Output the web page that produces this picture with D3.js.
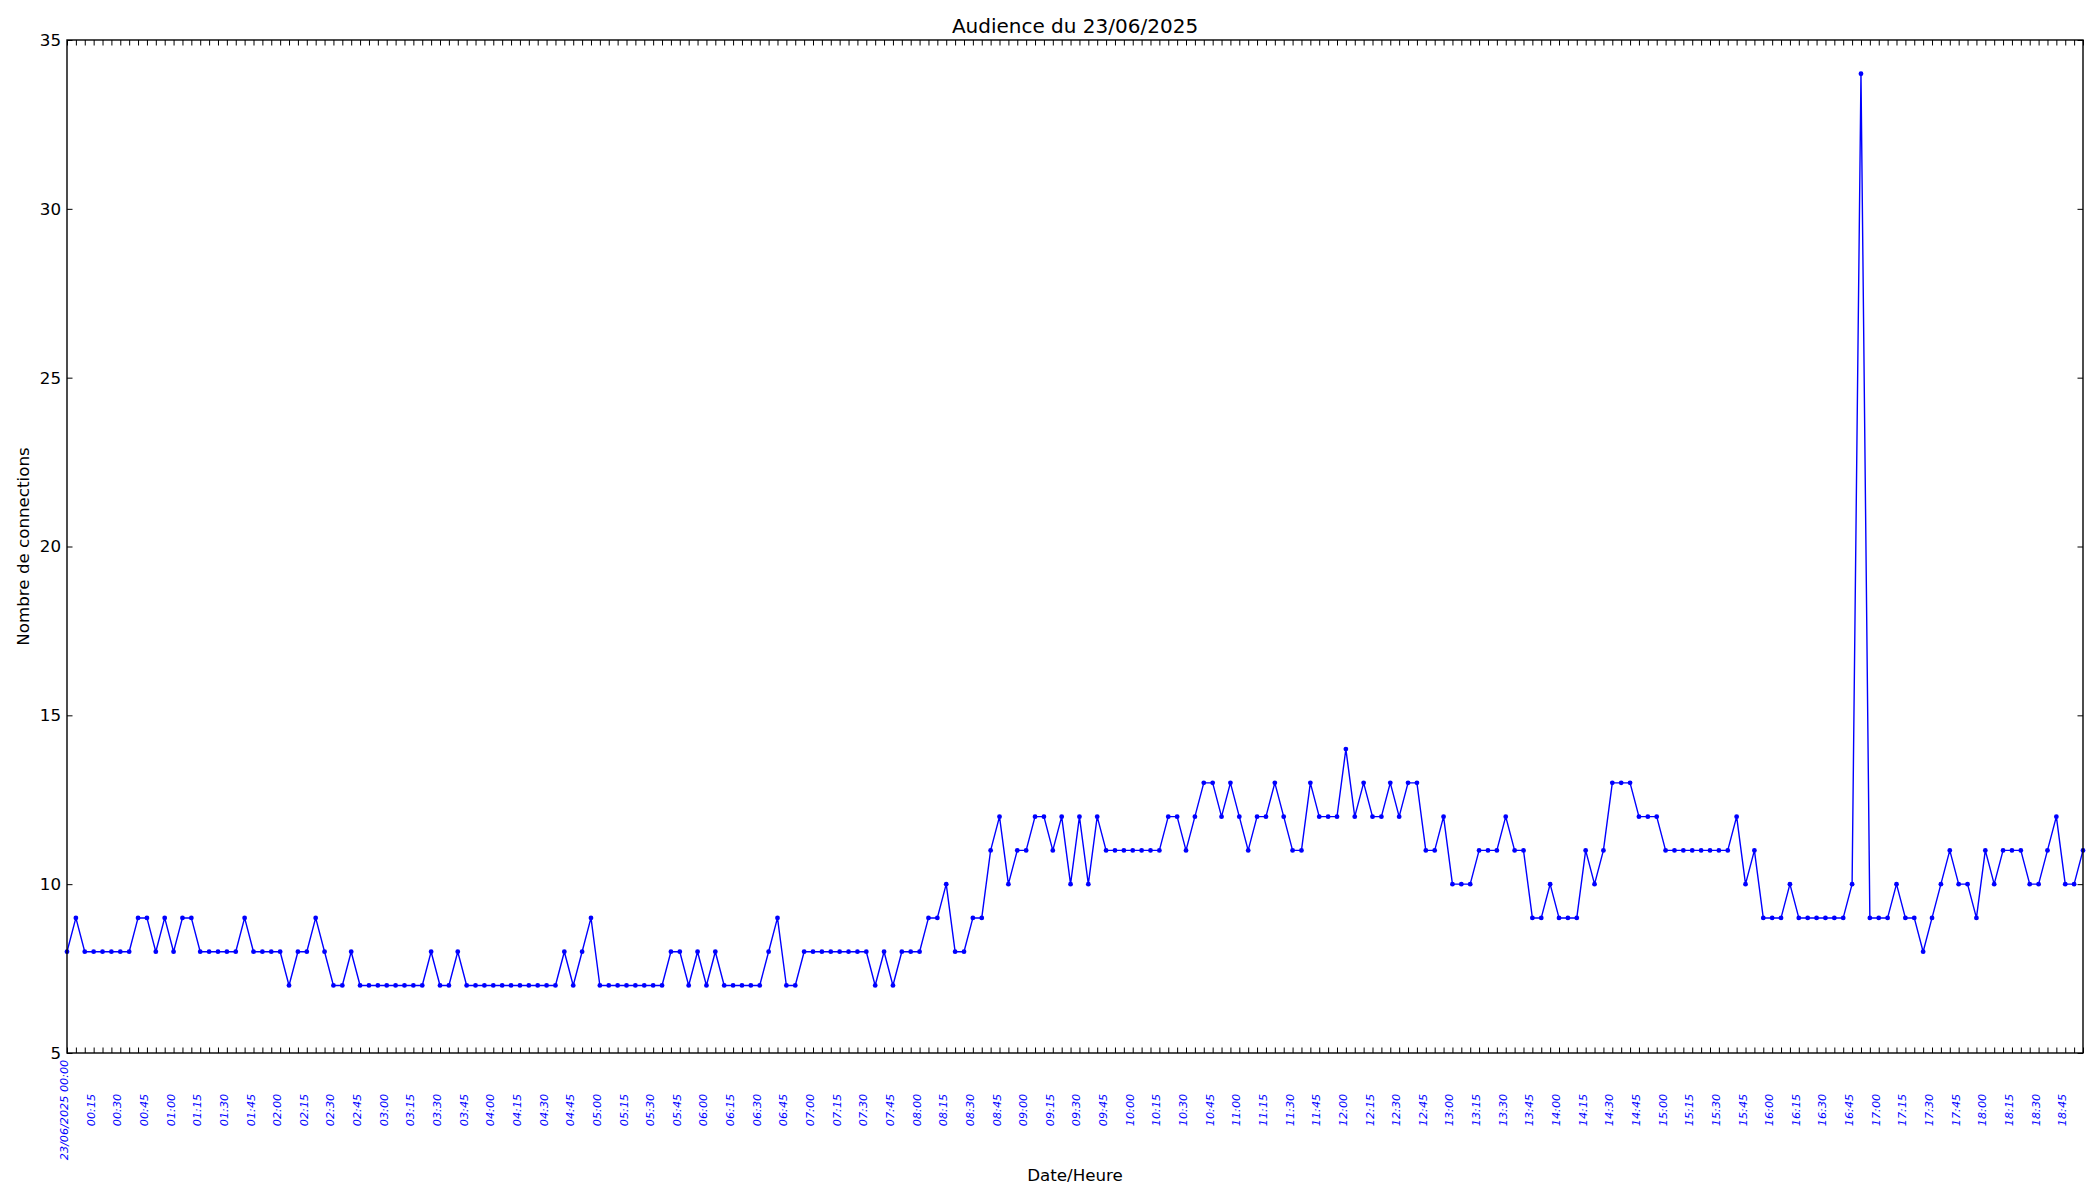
<!DOCTYPE html>
<html>
<head>
<meta charset="utf-8">
<script src="https://cdn.jsdelivr.net/npm/d3@7"></script>
<style>
  body { margin: 0; background: #fff; }
  svg { display: block; font-family: "DejaVu Sans", sans-serif; }
</style>
</head>
<body>
<svg id="chart" width="2100" height="1200"></svg>
<script>
// Connections every 5 minutes, 23/06/2025 00:00 -> 18:55
const connections = [
  8,9,8,8,8,8,8,8,9,9,
  8,9,8,9,9,8,8,8,8,8,
  9,8,8,8,8,7,8,8,9,8,
  7,7,8,7,7,7,7,7,7,7,
  7,8,7,7,8,7,7,7,7,7,
  7,7,7,7,7,7,8,7,8,9,
  7,7,7,7,7,7,7,7,8,8,
  7,8,7,8,7,7,7,7,7,8,
  9,7,7,8,8,8,8,8,8,8,
  8,7,8,7,8,8,8,9,9,10,
  8,8,9,9,11,12,10,11,11,12,
  12,11,12,10,12,10,12,11,11,11,
  11,11,11,11,12,12,11,12,13,13,
  12,13,12,11,12,12,13,12,11,11,
  13,12,12,12,14,12,13,12,12,13,
  12,13,13,11,11,12,10,10,10,11,
  11,11,12,11,11,9,9,10,9,9,
  9,11,10,11,13,13,13,12,12,12,
  11,11,11,11,11,11,11,11,12,10,
  11,9,9,9,10,9,9,9,9,9,
  9,10,34,9,9,9,10,9,9,8,
  9,10,11,10,10,9,11,10,11,11,
  11,10,10,11,12,10,10,11
];

// One label every 3 points (15 min)
const timeLabels = [
  "23/06/2025 00:00","00:15","00:30","00:45","01:00","01:15","01:30","01:45",
  "02:00","02:15","02:30","02:45","03:00","03:15","03:30","03:45",
  "04:00","04:15","04:30","04:45","05:00","05:15","05:30","05:45",
  "06:00","06:15","06:30","06:45","07:00","07:15","07:30","07:45",
  "08:00","08:15","08:30","08:45","09:00","09:15","09:30","09:45",
  "10:00","10:15","10:30","10:45","11:00","11:15","11:30","11:45",
  "12:00","12:15","12:30","12:45","13:00","13:15","13:30","13:45",
  "14:00","14:15","14:30","14:45","15:00","15:15","15:30","15:45",
  "16:00","16:15","16:30","16:45","17:00","17:15","17:30","17:45",
  "18:00","18:15","18:30","18:45"
];
const labelEvery = 3;

const yTicks = [5, 10, 15, 20, 25, 30, 35];
const yDomain = [5, 35];

const titleText = "Audience du 23/06/2025";
const xTitle = "Date/Heure";
const yTitle = "Nombre de connections";

(function () {
const W = 2100, H = 1200;
const mL = 67, mR = 2083, mT = 40, mB = 1053;
const tickLen = 5.5;

const svg = d3.select("#chart");
svg.append("rect").attr("width", W).attr("height", H).attr("fill", "#fff");

const idx = d3.range(connections.length);
const x = d3.scaleLinear().domain([0, connections.length - 1]).range([mL, mR]);
const y = d3.scaleLinear().domain(yDomain).range([mB, mT]);

// Bottom axis
const gBottom = svg.append("g").attr("transform", `translate(0,${mB})`)
  .call(d3.axisBottom(x).tickValues(idx).tickSizeInner(-tickLen).tickSizeOuter(0)
    .tickFormat(i => i % labelEvery === 0 ? (timeLabels[i / labelEvery] || "") : ""));
gBottom.select(".domain").remove();
gBottom.selectAll(".tick line").attr("stroke", "#000").attr("stroke-width", 1);
gBottom.selectAll(".tick text")
  .attr("y", null).attr("dy", null)
  .attr("transform", "translate(-3,57) rotate(-90)")
  .attr("text-anchor", "middle")
  .attr("dominant-baseline", "central")
  .attr("font-size", 11.2)
  .attr("font-style", "italic")
  .attr("font-family", "DejaVu Sans")
  .attr("fill", "#0000ff");

// Top axis (ticks only)
const gTop = svg.append("g").attr("transform", `translate(0,${mT})`)
  .call(d3.axisTop(x).tickValues(idx).tickSizeInner(-tickLen).tickSizeOuter(0).tickFormat(""));
gTop.select(".domain").remove();
gTop.selectAll(".tick line").attr("stroke", "#000").attr("stroke-width", 1);

// Left axis
const gLeft = svg.append("g").attr("transform", `translate(${mL},0)`)
  .call(d3.axisLeft(y).tickValues(yTicks).tickSizeInner(-tickLen).tickSizeOuter(0).tickPadding(6));
gLeft.select(".domain").remove();
gLeft.selectAll(".tick line").attr("stroke", "#000").attr("stroke-width", 1);
gLeft.selectAll(".tick text")
  .attr("font-size", 16.7).attr("font-family", "DejaVu Sans").attr("fill", "#000");

// Right axis (ticks only)
const gRight = svg.append("g").attr("transform", `translate(${mR},0)`)
  .call(d3.axisRight(y).tickValues(yTicks).tickSizeInner(-tickLen).tickSizeOuter(0).tickFormat(""));
gRight.select(".domain").remove();
gRight.selectAll(".tick line").attr("stroke", "#000").attr("stroke-width", 1);

// Data line
svg.append("path")
  .datum(connections)
  .attr("fill", "none")
  .attr("stroke", "#0000ff")
  .attr("stroke-width", 1.4)
  .attr("stroke-linejoin", "round")
  .attr("d", d3.line().x((d, i) => x(i)).y(d => y(d)));

svg.append("g").selectAll("circle")
  .data(connections)
  .join("circle")
  .attr("cx", (d, i) => x(i))
  .attr("cy", d => y(d))
  .attr("r", 2.4)
  .attr("fill", "#0000ff");

// Frame
svg.append("rect")
  .attr("x", mL).attr("y", mT)
  .attr("width", mR - mL).attr("height", mB - mT)
  .attr("fill", "none").attr("stroke", "#000").attr("stroke-width", 1.4);

// Titles
svg.append("text")
  .attr("x", (mL + mR) / 2).attr("y", 33)
  .attr("text-anchor", "middle")
  .attr("font-size", 20).attr("fill", "#000")
  .text(titleText);

svg.append("text")
  .attr("x", (mL + mR) / 2).attr("y", 1181)
  .attr("text-anchor", "middle")
  .attr("font-size", 16.7).attr("fill", "#000")
  .text(xTitle);

svg.append("text")
  .attr("transform", `translate(23,${(mT + mB) / 2}) rotate(-90)`)
  .attr("text-anchor", "middle")
  .attr("dominant-baseline", "central")
  .attr("font-size", 16.7).attr("fill", "#000")
  .text(yTitle);
})();
</script>
</body>
</html>
